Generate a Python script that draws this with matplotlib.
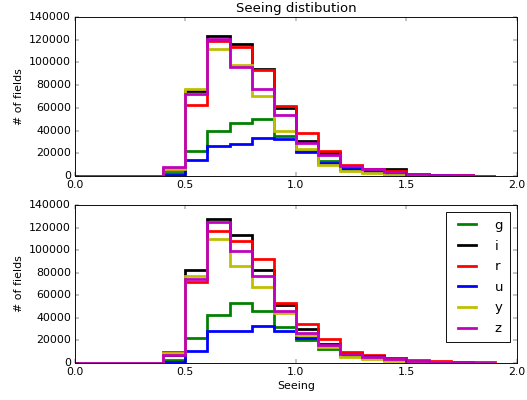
import numpy as np
import matplotlib
matplotlib.use("Agg")
import matplotlib.pyplot as plt
from matplotlib.lines import Line2D

# bin edges of the seeing histogram (arcsec), 0.0 .. 1.9
EDGES = [round(0.1 * i, 1) for i in range(20)]
FILTERS = ["g", "i", "r", "u", "y", "z"]
COLORS = ["g", "k", "r", "b", "y", "m"]

# counts per bin, top panel
TOP_G = [0, 0, 0, 0, 3000, 22000, 40000, 47000, 50500, 35000, 22000, 13500, 6500, 4000, 2000, 800, 500, 300, 100]
TOP_I = [0, 0, 0, 0, 6000, 75000, 123500, 116500, 94500, 60000, 31000, 20000, 9000, 6500, 5800, 1500, 1000, 600, 300]
TOP_R = [0, 0, 0, 0, 5000, 62500, 119000, 114000, 93500, 62000, 38000, 22000, 9500, 6500, 4500, 1500, 1200, 1000, 400]
TOP_U = [0, 0, 0, 0, 1200, 14000, 26500, 28500, 33500, 33000, 21000, 11500, 6500, 4500, 2500, 1000, 500, 300, 100]
TOP_Y = [0, 0, 0, 0, 6000, 77000, 111500, 98000, 70000, 40000, 24000, 9500, 4000, 2800, 800, 500, 300, 200, 100]
TOP_Z = [0, 0, 0, 0, 8000, 72500, 121000, 96000, 77000, 54000, 29000, 18500, 8500, 6300, 3500, 1500, 1000, 600, 300]

# counts per bin, bottom panel
BOT_G = [0, 0, 0, 0, 3000, 22000, 42500, 53000, 46000, 31500, 20000, 12500, 6000, 4500, 2500, 1000, 600, 300, 100]
BOT_I = [0, 0, 0, 0, 7000, 82000, 128000, 113500, 82000, 51000, 30500, 17000, 8500, 6500, 4000, 2000, 1200, 700, 300]
BOT_R = [0, 0, 0, 0, 10000, 72000, 117000, 108500, 92000, 53500, 35000, 21000, 9500, 7000, 4500, 2700, 1800, 1200, 600]
BOT_U = [0, 0, 0, 0, 900, 11000, 28000, 28000, 32500, 28000, 22000, 15000, 8000, 6300, 3000, 1200, 600, 300, 100]
BOT_Y = [0, 0, 0, 0, 8500, 77500, 110000, 86000, 67000, 44000, 25000, 14500, 5500, 3300, 1800, 1000, 500, 300, 100]
BOT_Z = [0, 0, 0, 0, 7000, 74500, 125000, 99000, 77500, 46500, 26500, 16000, 7800, 5700, 3500, 1800, 1200, 700, 300]

plt.style.use("classic")
fig = plt.figure(figsize=(527 / 66, 400 / 66), dpi=66, facecolor="white")
ax1 = fig.add_axes([0.142, 0.56, 0.839, 0.3975])
ax2 = fig.add_axes([0.142, 0.0925, 0.839, 0.395])

edges = np.array(EDGES)
centers = (edges[:-1] + edges[1:]) / 2

panels = [
    (ax1, [TOP_G, TOP_I, TOP_R, TOP_U, TOP_Y, TOP_Z]),
    (ax2, [BOT_G, BOT_I, BOT_R, BOT_U, BOT_Y, BOT_Z]),
]
for ax, series in panels:
    for counts, c, f in zip(series, COLORS, FILTERS):
        ax.hist(centers, bins=edges, weights=counts, histtype="step",
                color=c, lw=3, label=f)
    ax.set_xlim(0, 2.0)
    ax.set_ylim(0, 140000)
    ax.set_xticks([0.0, 0.5, 1.0, 1.5, 2.0])
    ax.set_yticks(range(0, 140001, 20000))
    ax.set_ylabel("# of fields", labelpad=6)

ax1.set_title("Seeing distibution")
ax2.set_xlabel("Seeing")

handles = [Line2D([], [], color=c, lw=3) for c in COLORS]
ax2.legend(handles, FILTERS, loc="upper right", labelspacing=0.58,
           handletextpad=1.1, borderpad=0.55)

fig.savefig("out.png", dpi=66, facecolor="white")
